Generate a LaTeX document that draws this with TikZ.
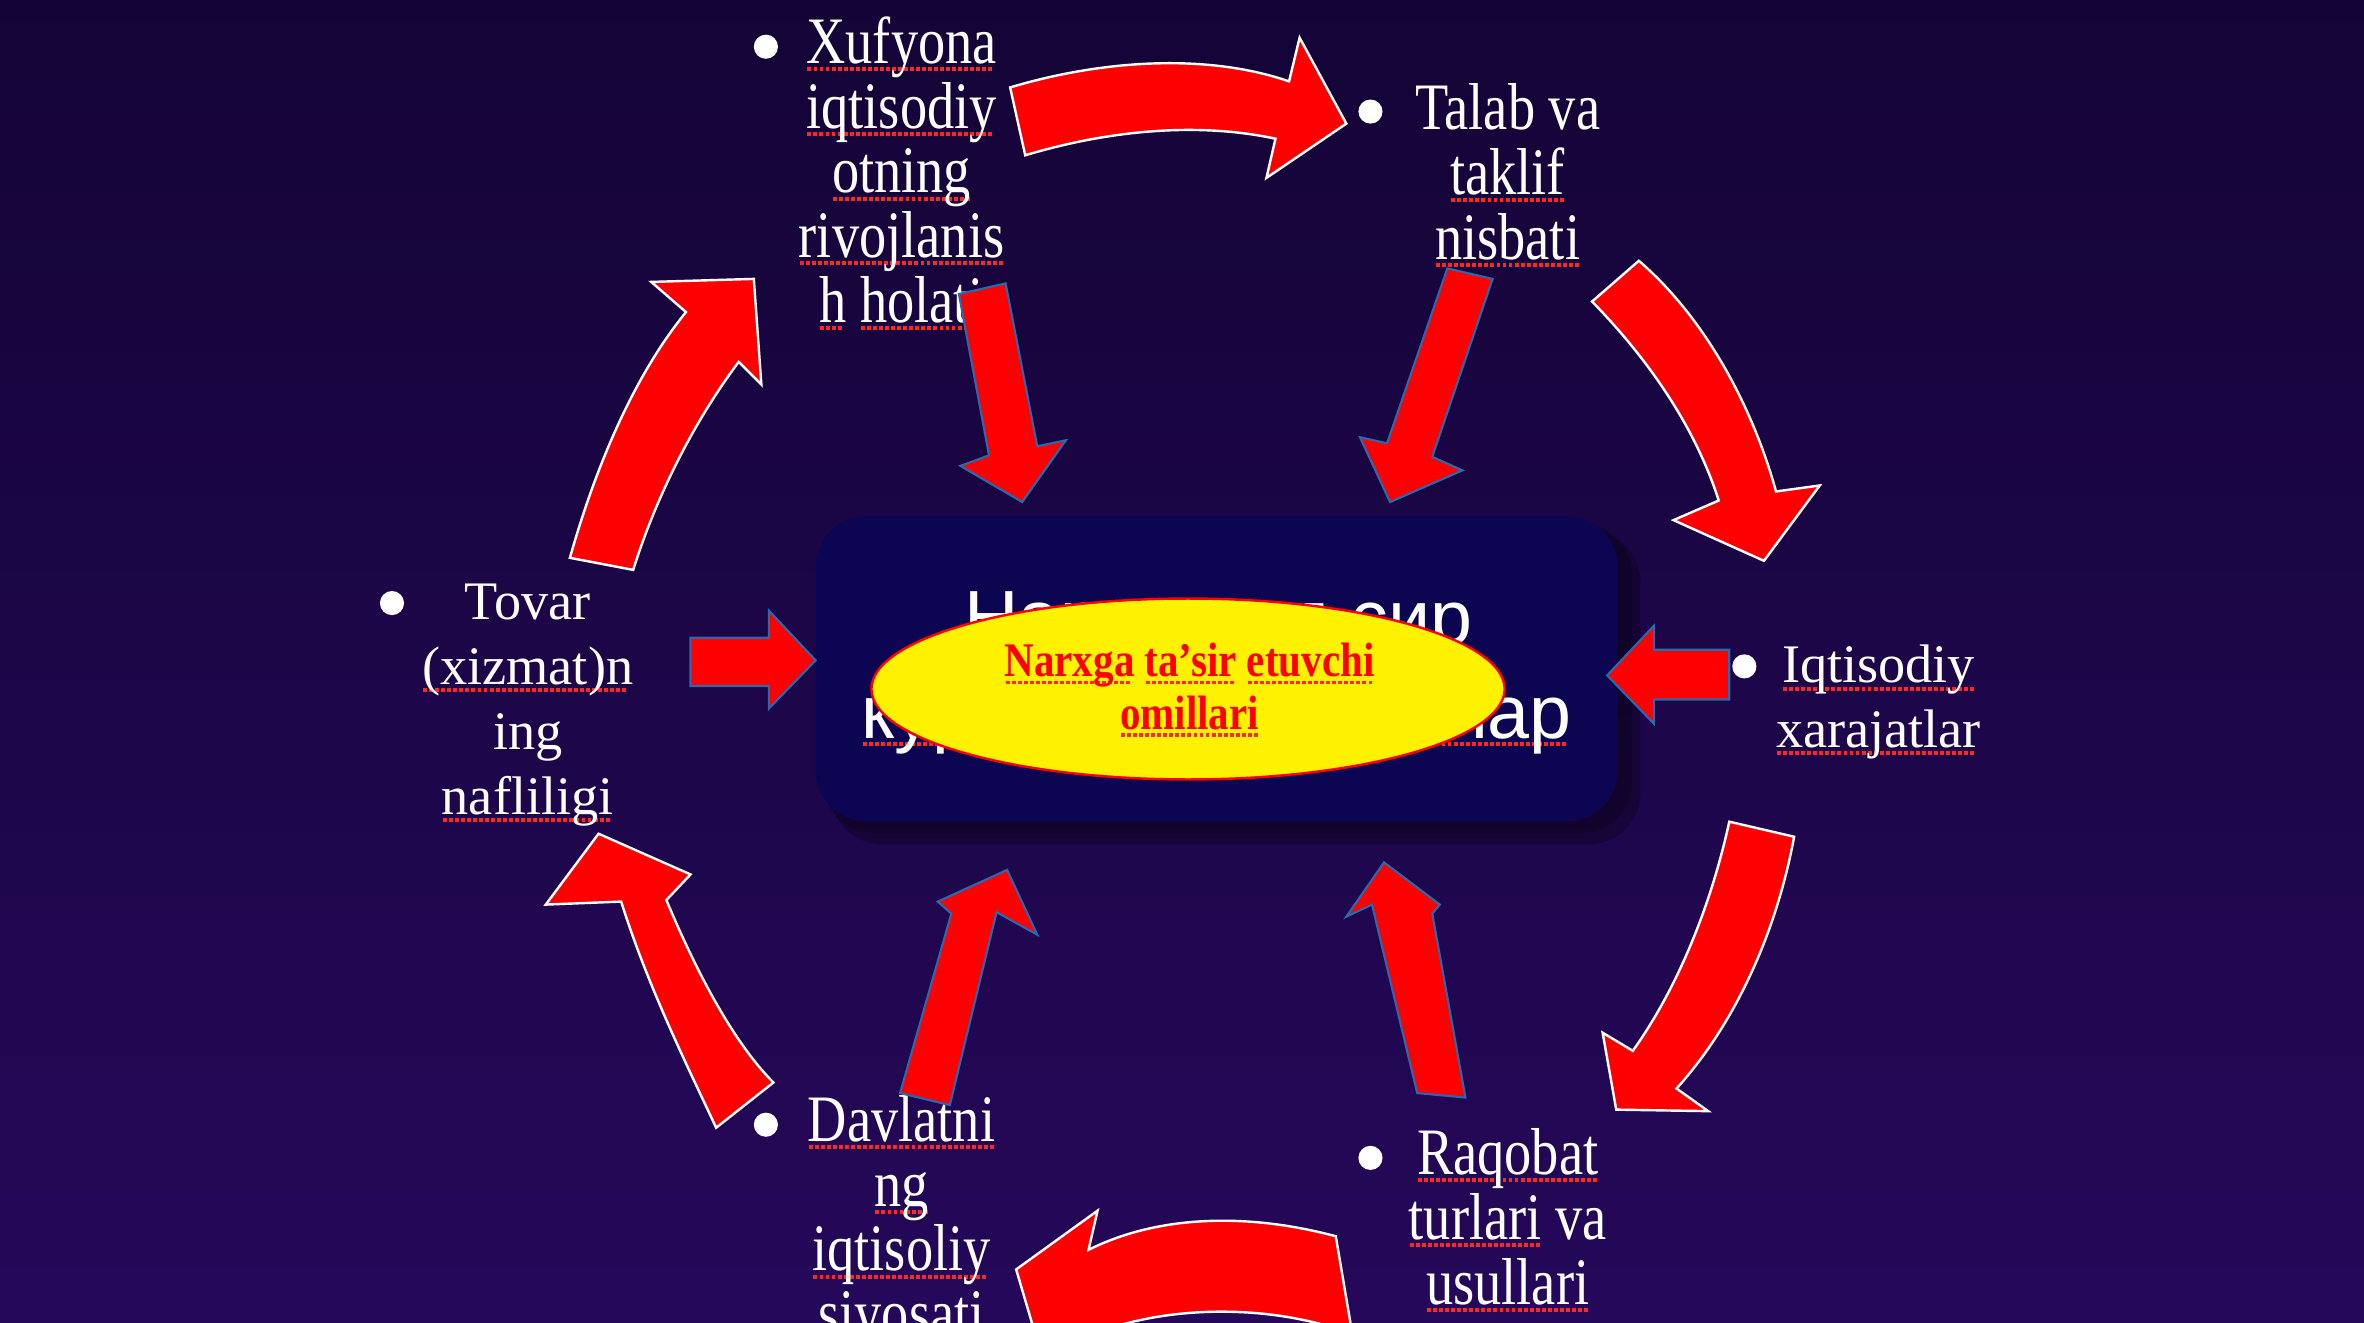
\documentclass[tikz,border=0pt]{standalone}
\usepackage{fontspec}
\usetikzlibrary{shapes.geometric}
\setmainfont{Liberation Serif}
\newfontfamily\narrowf{Liberation Serif}[FakeStretch=0.82]
\newfontfamily\narrowbf{Liberation Serif Bold}[FakeStretch=0.85]
\newfontfamily\sansf{Liberation Sans}
\definecolor{bgtop}{RGB}{20,4,54}
\definecolor{bgbot}{RGB}{37,8,90}
\definecolor{boxc}{RGB}{11,5,82}
\definecolor{edgeblue}{RGB}{40,105,175}
\newcommand\ru[1]{\setbox0\hbox{#1}\rlap{\raisebox{-5pt}{\color{red!85!white}\hbox to \wd0{\leaders\hbox to 4pt{\hss\rule{2.6pt}{2.6pt}\hss}\hfill}}}\box0\relax}
\begin{document}
\begin{tikzpicture}[x=1pt,y=-1pt,
  nt/.style={anchor=base,text=white,inner sep=0pt,font=\narrowf\fontsize{44}{43}\selectfont},
  wt/.style={anchor=base,text=white,inner sep=0pt,font=\fontsize{36}{43}\selectfont},
  dot/.style={circle,fill=white,inner sep=0pt,minimum size=16pt},
  carrow/.style={fill=red,draw=white,line width=1.6pt,line join=miter},
  sarrow/.style={fill=red,draw=edgeblue,line width=1.4pt,line join=miter}]
\shade[top color=bgtop,bottom color=bgbot] (0,0) rectangle (1568,877);
\useasboundingbox (0,0) rectangle (1568,877);
\clip (0,0) rectangle (1568,877);

% central box with shadow
\fill[black,opacity=0.25,rounded corners=34pt] (551,352) rectangle (1088,560);
\fill[black,opacity=0.2,rounded corners=34pt] (546,347) rectangle (1082,553);
\node[fill=boxc,rounded corners=34pt,minimum width=532pt,minimum height=203pt,inner sep=0pt] (box) at (807,443.5) {};
\node[anchor=base,text=white,inner sep=0pt,font=\sansf\fontsize{50}{50}\selectfont] (ru1) at (808,427) {Нархга таъсир};
\node[anchor=base,text=white,inner sep=0pt,font=\sansf\fontsize{50}{50}\selectfont] (ru2) at (807,490) {\ru{кўрсатувчи омиллар}};

% texts
\node[dot] (b1) at (508,31) {};
\node[nt] (x1) at (598,42) {\ru{Xufyona}};
\node[nt] (x2) at (598,85) {\ru{iqtisodiy}};
\node[nt] (x3) at (598,128) {\ru{otning}};
\node[nt] (x4) at (598,171) {\ru{rivojlanis}};
\node[nt] (x5) at (598,214) {\ru{h} \ru{holati}};

\node[dot] (b2) at (909,74) {};
\node[nt] (t1) at (1000,86) {Talab va};
\node[nt] (t2) at (1000,129) {\ru{taklif}};
\node[nt] (t3) at (1000,172) {\ru{nisbati}};

\node[dot] (b3) at (1157,442) {};
\node[wt] (i1) at (1246,453) {\ru{Iqtisodiy}};
\node[wt] (i2) at (1246,496) {\ru{xarajatlar}};

\node[dot] (b4) at (260,400) {};
\node[wt] (v1) at (350,411) {Tovar};
\node[wt] (v2) at (350,454) {\ru{(xizmat)n}};
\node[wt] (v3) at (350,497) {ing};
\node[wt] (v4) at (350,540) {\ru{nafliligi}};

\node[dot] (b5) at (508,746) {};
\node[nt] (d1) at (598,757) {\ru{Davlatni}};
\node[nt] (d2) at (598,800) {\ru{ng}};
\node[nt] (d3) at (598,843) {\ru{iqtisoliy}};
\node[nt] (d4) at (598,886) {\ru{siyosati}};

\node[dot] (b6) at (909,768) {};
\node[nt] (r1) at (1000,779) {\ru{Raqobat}};
\node[nt] (r2) at (1000,822) {\ru{turlari} va};
\node[nt] (r3) at (1000,865) {\ru{usullari}};

% straight arrows toward centre
\draw[sarrow] (636,195) -- (667,188) -- (688,296) -- (707,292) -- (678,333) -- (637,309) -- (656,302) -- cycle;
\draw[sarrow] (960,178) -- (990,185) -- (950,303) -- (970,312) -- (922,333) -- (902,290) -- (920,294) -- cycle;
\draw[sarrow] (458,423) -- (510,423) -- (510,405) -- (541,438) -- (510,470) -- (510,455) -- (458,455) -- cycle;
\draw[sarrow] (1147,431) -- (1097,431) -- (1097,415) -- (1066,448) -- (1097,480) -- (1097,464) -- (1147,464) -- cycle;
\draw[sarrow] (597,725) -- (630,733) -- (661,605) -- (688,620) -- (668,577) -- (622,598) -- (631,606) -- cycle;
\draw[sarrow] (940,725) -- (972,728) -- (950,606) -- (955,600) -- (918,572) -- (893,608) -- (910,600) -- cycle;

% curved cycle arrows
\draw[carrow] (670,58) .. controls (730,40) and (800,35) .. (855,54) -- (862,25) -- (893,82) -- (840,118) -- (846,92)
  .. controls (790,80) and (730,88) .. (680,103) -- cycle;
\draw[carrow] (1087,173) .. controls (1130,210) and (1162,268) .. (1178,326) -- (1207,322) -- (1170,372) -- (1110,345) -- (1140,332)
  .. controls (1125,285) and (1095,240) .. (1056,200) -- cycle;
\draw[carrow] (1190,555) .. controls (1178,620) and (1150,680) .. (1112,722) -- (1133,737) -- (1072,736) -- (1063,685) -- (1083,697)
  .. controls (1113,655) and (1135,600) .. (1147,545) -- cycle;
\draw[carrow] (886,820) .. controls (830,805) and (770,805) .. (722,829) -- (728,803) -- (674,842) -- (700,930) -- (725,885)
  .. controls (775,865) and (845,865) .. (897,885) -- cycle;
\draw[carrow] (475,748) .. controls (455,705) and (430,655) .. (412,598) -- (362,600) -- (397,553) -- (458,580) -- (442,597)
  .. controls (460,640) and (485,690) .. (513,718) -- cycle;
\draw[carrow] (378,370) .. controls (395,310) and (420,250) .. (455,207) -- (432,187) -- (500,185) -- (505,255) -- (490,240)
  .. controls (460,280) and (435,330) .. (420,378) -- cycle;

% ellipse
\node[ellipse,draw=red,line width=1.6pt,fill=yellow,minimum width=420pt,minimum height=120pt,inner sep=0pt] (ell) at (788,457) {};
\node[anchor=base,text=red,inner sep=0pt,font=\narrowbf\fontsize{32}{34}\selectfont] (e1) at (789,449) {\ru{Narxga} \ru{ta’sir} \ru{etuvchi}};
\node[anchor=base,text=red,inner sep=0pt,font=\narrowbf\fontsize{32}{34}\selectfont] (e2) at (789,484) {\ru{omillari}};
\end{tikzpicture}
\end{document}
